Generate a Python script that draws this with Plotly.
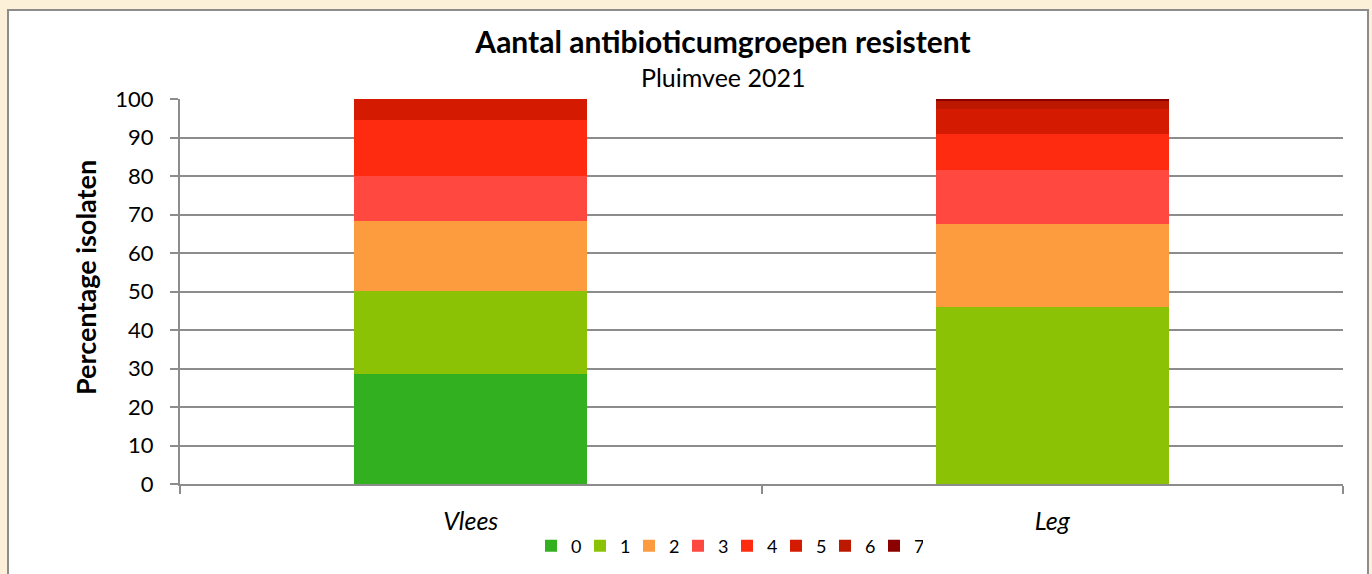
import plotly.graph_objects as go

categories = ["Vlees", "Leg"]
groups = ["0", "1", "2", "3", "4", "5", "6", "7"]
values = {
    "0": [28.6, 0.0],
    "1": [21.5, 46.0],
    "2": [18.1, 21.5],
    "3": [11.8, 14.1],
    "4": [14.5, 9.2],
    "5": [5.5, 6.5],
    "6": [0.0, 2.2],
    "7": [0.0, 0.5],
}
colors = ["#33B020", "#8BC205", "#FD9B3F", "#FF4840", "#FF2B10", "#D41A00", "#BC1800", "#8B0000"]
yticks = [0, 10, 20, 30, 40, 50, 60, 70, 80, 90, 100]
title_text = "Aantal antibioticumgroepen resistent"
subtitle_text = "Pluimvee 2021"
ytitle_text = "Percentage isolaten"

FONT = "Lato, 'Open Sans', sans-serif"

fig = go.Figure()
for g, c in zip(groups, colors):
    fig.add_trace(go.Bar(
        x=categories, y=values[g], name=g,
        marker=dict(color=c, line=dict(width=0)),
        width=0.4,
    ))

W, H = 1372, 574
L, R, T, B = 180, 29, 99, 90
pw, ph = W - L - R, H - T - B

def px_x(x):
    return (x - L) / pw

def px_y(y):
    return (H - B - y) / ph

fig.add_shape(type="rect", xref="paper", yref="paper",
              x0=px_x(8), x1=px_x(1368), y0=px_y(600), y1=px_y(10),
              fillcolor="white", line=dict(color="#8c8c8c", width=2), layer="below")

fig.add_annotation(text=subtitle_text, xref="paper", yref="paper",
                   x=px_x(723), y=px_y(77), xanchor="center", yanchor="middle",
                   showarrow=False, font=dict(size=25, family=FONT))
fig.add_annotation(text="<b>" + ytitle_text + "</b>", xref="paper", yref="paper",
                   x=px_x(85), y=px_y(278), xanchor="center", yanchor="middle",
                   textangle=-90, showarrow=False, font=dict(size=27, family=FONT))

fig.update_layout(
    width=W, height=H,
    margin=dict(l=L, r=R, t=T, b=B, autoexpand=False),
    paper_bgcolor="#FDF0D9",
    plot_bgcolor="rgba(0,0,0,0)",
    barmode="stack",
    bargap=0.6,
    font=dict(family=FONT, color="#000000"),
    title=dict(
        text="<b>" + title_text + "</b>",
        x=px_x(723), xref="paper", xanchor="center",
        yref="container", y=1 - 42 / H, yanchor="middle",
        font=dict(size=30, family=FONT),
    ),
    showlegend=True,
    legend=dict(
        orientation="h", x=px_x(727), xanchor="center", xref="paper",
        y=-(546 - (H - B)) / ph, yanchor="middle",
        font=dict(size=18, family=FONT),
        traceorder="normal",
        itemwidth=30,
        entrywidth=4,
        bgcolor="rgba(0,0,0,0)",
    ),
    xaxis=dict(
        type="category",
        tickson="boundaries",
        ticks="outside", ticklen=8, tickwidth=2, tickcolor="#8c8c8c",
        showline=True, linecolor="#8c8c8c", linewidth=2,
        showgrid=False,
        ticklabelstandoff=14,
        automargin=False,
        tickfont=dict(size=25, family=FONT, style="italic"),
    ),
    yaxis=dict(
        range=[0, 100],
        tickvals=yticks,
        ticks="outside", ticklen=8, tickwidth=2, tickcolor="#8c8c8c",
        showline=True, linecolor="#8c8c8c", linewidth=2,
        showgrid=True, gridcolor="#8c8c8c", gridwidth=2,
        zeroline=False,
        ticklabelstandoff=12,
        automargin=False,
        tickfont=dict(size=22, family=FONT),
    ),
)

fig.write_html(
    "out.html",
    config={"displayModeBar": False},
    post_script="document.body.style.margin='0';document.body.style.background='#FDF0D9';",
)
